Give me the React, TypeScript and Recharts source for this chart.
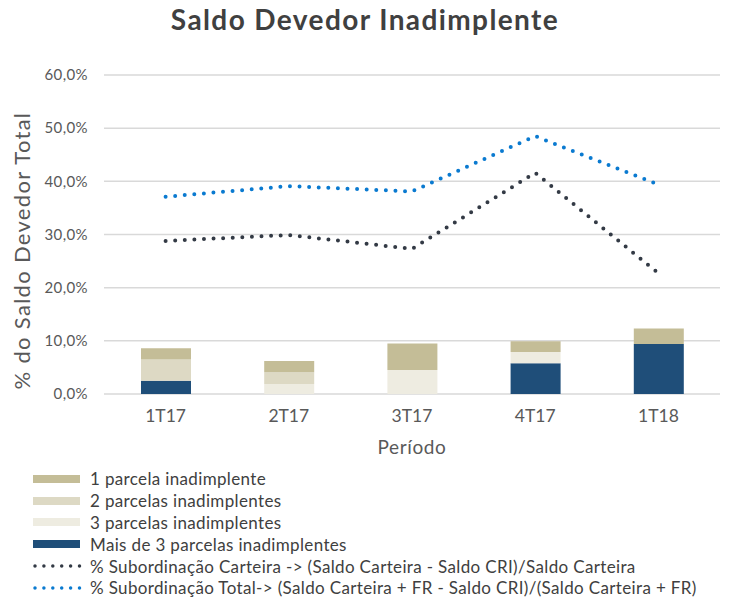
import React from 'react';
import { ComposedChart, Bar, Line, XAxis, YAxis, CartesianGrid, Legend } from 'recharts';

const categories = ['1T17', '2T17', '3T17', '4T17', '1T18'];
const umaParcela = [2.1, 2.1, 5.0, 2.0, 2.9];
const duasParcelas = [4.0, 2.2, 0, 0, 0];
const tresParcelas = [0, 1.9, 4.5, 2.1, 0];
const maisDe3 = [2.5, 0, 0, 5.8, 9.4];
const subCarteira = [28.8, 29.9, 27.3, 41.6, 22.7];
const subTotal = [37.1, 39.1, 38.1, 48.5, 39.4];
const yTicks = [0, 10, 20, 30, 40, 50, 60];

const NAMES = {
  uma: '1 parcela inadimplente',
  duas: '2 parcelas inadimplentes',
  tres: '3 parcelas inadimplentes',
  mais: 'Mais de 3 parcelas inadimplentes',
  carteira: '% Subordinação Carteira -> (Saldo Carteira - Saldo CRI)/Saldo Carteira',
  total: '% Subordinação Total-> (Saldo Carteira + FR - Saldo CRI)/(Saldo Carteira + FR)',
};

const COLORS = {
  uma: '#c4bd97',
  duas: '#ddd9c4',
  tres: '#eeece1',
  mais: '#1f4e79',
  carteira: '#333a45',
  total: '#0a7ad0',
};

const data = categories.map((c, i) => ({
  name: c,
  uma: umaParcela[i],
  duas: duasParcelas[i],
  tres: tresParcelas[i],
  mais: maisDe3[i],
  carteira: subCarteira[i],
  total: subTotal[i],
}));

const legendOrder: { key: keyof typeof NAMES; kind: 'bar' | 'dot' }[] = [
  { key: 'uma', kind: 'bar' },
  { key: 'duas', kind: 'bar' },
  { key: 'tres', kind: 'bar' },
  { key: 'mais', kind: 'bar' },
  { key: 'carteira', kind: 'dot' },
  { key: 'total', kind: 'dot' },
];

const FONT = 'Lato, "Open Sans", sans-serif';

const renderLegend = () => (
  <div style={{ fontFamily: FONT, fontSize: 17, letterSpacing: 0.35, color: '#404040' }}>
    {legendOrder.map((it) => (
      <div key={it.key} style={{ display: 'flex', alignItems: 'center', height: 21.8 }}>
        <svg width={62} height={12} style={{ flex: 'none' }}>
          {it.kind === 'bar' ? (
            <rect x={5} y={2} width={47} height={8} fill={COLORS[it.key]} />
          ) : (
            <line x1={7} y1={6} x2={52} y2={6} stroke={COLORS[it.key]} strokeWidth={3.5}
              strokeDasharray="0 8.9" strokeLinecap="round" />
          )}
        </svg>
        <span style={{ whiteSpace: 'nowrap' }}>{NAMES[it.key]}</span>
      </div>
    ))}
  </div>
);

const fmt = (v: number) => v.toFixed(1).replace('.', ',') + '%';

export default function App() {
  return (
    <div style={{ position: 'absolute', left: 0, top: 0, width: 730, height: 601, background: '#fff' }}>
      <div style={{
        position: 'absolute', left: 0, top: 2, width: 730, textAlign: 'center',
        fontFamily: FONT, fontWeight: 700, fontSize: 28, letterSpacing: 1.4, color: '#404040',
      }}>
        Saldo Devedor Inadimplente
      </div>
      <ComposedChart
        width={730}
        height={601}
        data={data}
        margin={{ top: 75, right: 10, left: 0, bottom: 147 }}
        barSize={50}
      >
        <CartesianGrid vertical={false} stroke="#d9d9d9" strokeWidth={1.5} />
        <XAxis
          dataKey="name"
          height={60}
          axisLine={false}
          tickLine={false}
          tickSize={6}
          tickMargin={10}
          tick={{ fill: '#595959', fontSize: 17.5, fontFamily: FONT }}
          label={{ value: 'Período', position: 'insideBottom', offset: 0, fill: '#595959', fontSize: 19, letterSpacing: 0.6, fontFamily: FONT }}
        />
        <YAxis
          width={104}
          domain={[0, 60]}
          ticks={yTicks}
          tickFormatter={fmt}
          axisLine={false}
          tickLine={false}
          tickSize={6}
          tickMargin={10}
          tick={{ fill: '#595959', fontSize: 15, letterSpacing: 0.4, fontFamily: FONT }}
          label={{ value: '% do Saldo Devedor Total', angle: -90, position: 'center', dx: -30, dy: 16, fill: '#595959', fontSize: 22, letterSpacing: 1.3, fontFamily: FONT }}
        />
        <Bar dataKey="mais" stackId="a" name={NAMES.mais} fill={COLORS.mais} isAnimationActive={false} />
        <Bar dataKey="tres" stackId="a" name={NAMES.tres} fill={COLORS.tres} isAnimationActive={false} />
        <Bar dataKey="duas" stackId="a" name={NAMES.duas} fill={COLORS.duas} isAnimationActive={false} />
        <Bar dataKey="uma" stackId="a" name={NAMES.uma} fill={COLORS.uma} isAnimationActive={false} />
        <Line dataKey="carteira" name={NAMES.carteira} type="linear" stroke={COLORS.carteira} strokeWidth={4}
          strokeDasharray="0 9.6" strokeLinecap="round" dot={false} activeDot={false} isAnimationActive={false} />
        <Line dataKey="total" name={NAMES.total} type="linear" stroke={COLORS.total} strokeWidth={4}
          strokeDasharray="0 9.6" strokeLinecap="round" dot={false} activeDot={false} isAnimationActive={false} />
        <Legend
          layout="horizontal"
          verticalAlign="middle"
          align="center"
          content={renderLegend}
          wrapperStyle={{ top: 468, left: 28, width: 700 }}
        />
      </ComposedChart>
    </div>
  );
}
